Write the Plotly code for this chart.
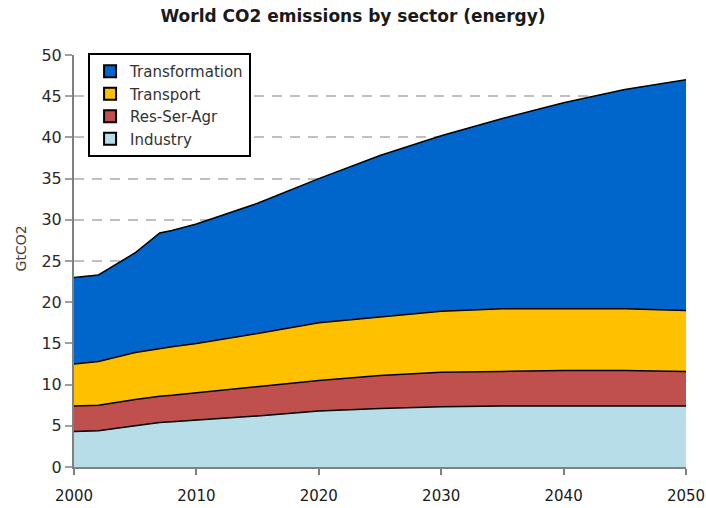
import plotly.graph_objects as go

# Years sampled along the projection
years = [2000, 2002, 2005, 2007, 2008, 2010, 2015, 2020, 2025, 2030, 2035, 2040, 2045, 2050]

# Emissions per sector (GtCO2), stacked from the bottom up
industry = [4.3, 4.4, 5.0, 5.4, 5.5, 5.7, 6.2, 6.8, 7.1, 7.3, 7.4, 7.4, 7.4, 7.4]
res_ser_agr = [3.1, 3.1, 3.2, 3.2, 3.2, 3.3, 3.5, 3.7, 4.0, 4.2, 4.2, 4.3, 4.3, 4.2]
transport = [5.1, 5.3, 5.7, 5.8, 5.9, 6.0, 6.5, 7.0, 7.1, 7.4, 7.6, 7.5, 7.5, 7.4]
transformation = [10.5, 10.5, 12.1, 14.0, 14.1, 14.5, 15.8, 17.5, 19.6, 21.3, 23.1, 25.0, 26.6, 28.0]

sector_names = ["Industry", "Res-Ser-Agr", "Transport", "Transformation"]
sector_values = [industry, res_ser_agr, transport, transformation]
sector_colors = ["#B7DDE8", "#C0504D", "#FFC000", "#0066CC"]

x_ticks = [2000, 2010, 2020, 2030, 2040, 2050]
y_ticks = [0, 5, 10, 15, 20, 25, 30, 35, 40, 45, 50]

FONT = "DejaVu Sans"

fig = go.Figure()

# Stacked areas with dark outlines
for name, vals, col in zip(sector_names, sector_values, sector_colors):
    fig.add_trace(go.Scatter(
        x=years, y=vals, name=name, stackgroup="co2", mode="lines",
        line=dict(color="#000000", width=1.5),
        fillcolor=col, showlegend=False, hoverinfo="x+y+name",
    ))

# Square swatches for the legend, top sector first
for name, col in zip(sector_names[::-1], sector_colors[::-1]):
    fig.add_trace(go.Scatter(
        x=[None], y=[None], name=name, mode="markers",
        marker=dict(symbol="square", size=9, color=col,
                    line=dict(color="#000000", width=2)),
        showlegend=True,
    ))

fig.update_layout(
    width=706, height=508,
    margin=dict(l=74, r=20, t=55, b=41),
    paper_bgcolor="white", plot_bgcolor="white",
    title=dict(text="<b>World CO2 emissions by sector (energy)</b>",
               x=0.5, xref="container", y=0.968, yref="container",
               xanchor="center", yanchor="middle",
               font=dict(family=FONT, size=17, color="#1a1a1a")),
    legend=dict(
        x=0.023, y=1.005, xanchor="left", yanchor="top",
        traceorder="normal",
        bgcolor="white", bordercolor="#000000", borderwidth=2,
        font=dict(family=FONT, size=15, color="#333333"),
        tracegroupgap=0, itemsizing="constant",
    ),
    showlegend=True,
    annotations=[dict(
        text="GtCO2", textangle=-90, xref="paper", yref="paper",
        x=-0.087, y=0.53, xanchor="center", yanchor="middle",
        showarrow=False, font=dict(family=FONT, size=14, color="#444444"),
    )],
)

fig.update_xaxes(
    range=[2000, 2050], tickvals=x_ticks, automargin=False,
    ticklabeloverflow="allow",
    showgrid=False, zeroline=False,
    showline=True, linecolor="#808080", linewidth=2,
    ticks="outside", ticklen=6, tickwidth=2, tickcolor="#808080",
    ticklabelstandoff=8,
    tickfont=dict(family=FONT, size=15, color="#1a1a1a"),
)

fig.update_yaxes(
    range=[0, 50], tickvals=y_ticks, automargin=False,
    showgrid=True, gridcolor="#C0C0C0", gridwidth=2, griddash="10px,8px",
    zeroline=False,
    showline=True, linecolor="#808080", linewidth=2,
    ticks="outside", ticklen=7, tickwidth=2, tickcolor="#A0A0A0",
    tickfont=dict(family=FONT, size=16, color="#2a2a2a"),
)

fig.write_html("out.html")
